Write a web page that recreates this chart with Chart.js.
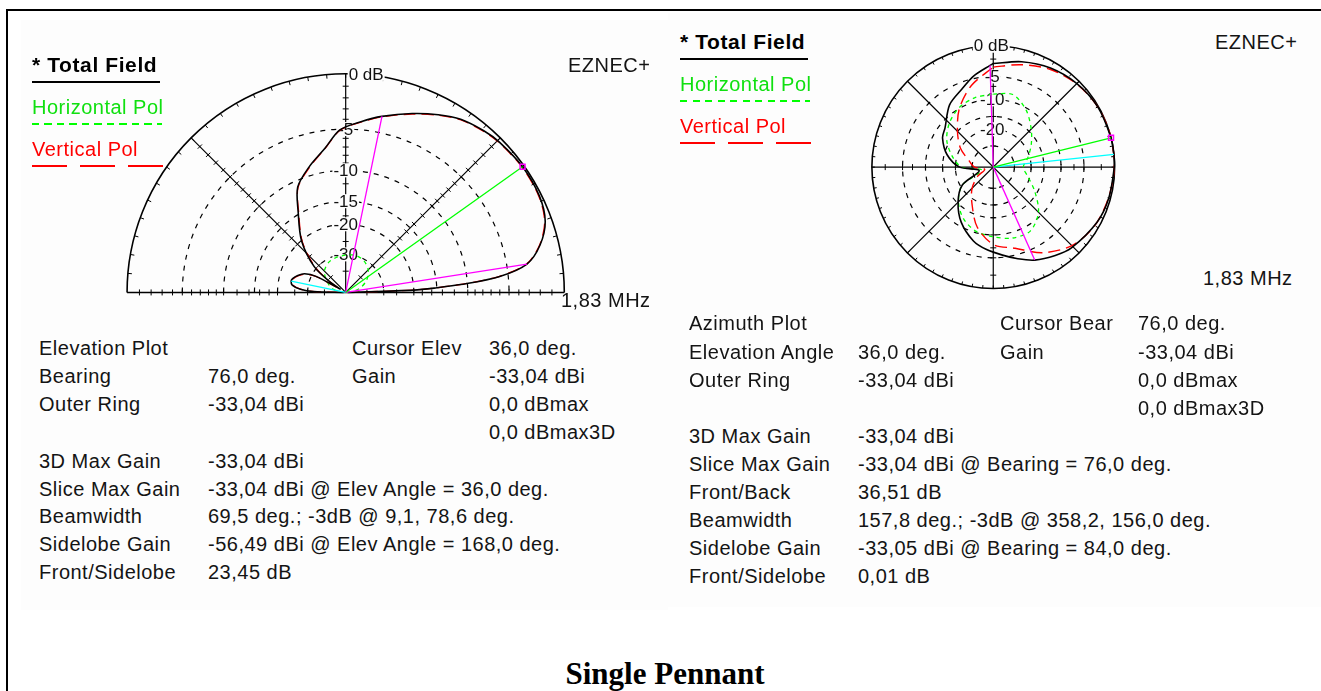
<!DOCTYPE html>
<html>
<head>
<meta charset="utf-8">
<title>Single Pennant</title>
<script src="https://cdn.jsdelivr.net/npm/chart.js@4.4.1/dist/chart.umd.min.js"></script>
<style>
  html, body { margin:0; padding:0; background:#fff; }
  body { width:1321px; height:691px; position:relative; overflow:hidden;
         font-family:"Liberation Sans", Arial, sans-serif; color:#141414; }
  .frame { position:absolute; left:6px; top:9px; width:1400px; height:800px;
           border-top:2px solid #000; border-left:2px solid #000; }
  .panel { position:absolute; background:#fdfdfd; }
  .txt { position:absolute; white-space:nowrap; font-size:20px; line-height:20px; letter-spacing:0.5px; }
  .ltitle { font-weight:bold; font-size:21px; line-height:21px; color:#000; letter-spacing:0.6px; }
  .lline { position:absolute; height:2px; }
  canvas { position:absolute; }
  .title { position:absolute; left:0; width:1330px; top:658px; text-align:center; line-height:31px;
           font-family:"Liberation Serif","Times New Roman",serif; font-weight:bold; font-size:31px; color:#000; }
</style>
</head>
<body>
<div class="frame"></div>
<div class="panel" style="left:21px;top:20px;width:647px;height:590px"></div>
<div class="panel" style="left:668px;top:13px;width:653px;height:594px"></div>
<canvas id="elev" width="560" height="270" style="left:100px;top:50px"></canvas>
<canvas id="azim" width="300" height="290" style="left:850px;top:25px"></canvas>
<div id="texts"></div>
<div class="title">Single Pennant</div>
<script>
// ---------- Elevation slice at bearing 76° (angles = elevation, dB relative to max) ----------
const elevAngles = [0,2,3,4,6,9.1,14,20,27,36,45,50,57,63,70,78.6,85,92,98,106,114,120,130,140,146,148,151,155,160,165,168,172,176,178.5,180];
const elevTotal  = [-80,-20,-15,-11,-6,-3,-1.5,-0.5,-0.1,0,-0.1,-0.25,-0.6,-1.2,-2.0,-3,-3.8,-4.7,-6.6,-8.5,-10.6,-14.3,-19.9,-28.7,-43,-60,-32,-27,-25,-23.7,-23.45,-24,-27,-33,-80];
const elevVpol   = [-80,-20.1,-15.1,-11.1,-6.1,-3.05,-1.55,-0.55,-0.15,-0.05,-0.15,-0.3,-0.65,-1.25,-2.05,-3.05,-3.85,-4.75,-6.65,-8.6,-10.7,-14.5,-20.2,-29.4,-45,-60,-33,-27.5,-25.3,-23.9,-23.6,-24.2,-27.3,-33.5,-80];
const elevHAngles = [0,15,30,45,60,75,90,105,120,135,150,165,180];
const elevHpol    = [-80,-48,-38,-33,-30.5,-29.5,-30,-30.5,-31.5,-34,-40,-48,-80];

// ---------- Azimuth slice at 36° elevation (compass bearings, dB relative to max) ----------
const azTotAngles = [0,15,30,45,60,76,84,90,105,118,136,145,156,165,174,185,195,210,225,240,256,270,285,300,309,325,338,348,358.2,360];
const azTotal     = [-2.7,-1.8,-1.0,-0.45,-0.1,0,-0.01,-0.05,-0.25,-0.55,-1.3,-2.0,-3,-4.2,-5.4,-6.6,-7.9,-11,-15.3,-21,-36.51,-22,-16,-12.5,-11.5,-8,-6.3,-4.5,-3,-2.7];
const azAngles    = [0,15,30,45,60,75,90,105,120,135,150,165,180,195,210,225,240,255,270,285,300,315,330,345,360];
const azVpol      = [-3.3,-2.3,-1.2,-0.5,-0.1,0,-0.05,-0.3,-0.6,-1.5,-3.5,-6.3,-7.7,-11.5,-18,-24,-33,-45,-32,-27,-20,-15,-10,-6.2,-3.3];
const azHpol      = [-8.7,-8.2,-10.5,-14,-17.5,-21,-24,-21,-16,-11,-8.5,-8.6,-9.5,-10.3,-12.2,-15.5,-21,-40,-23,-18,-14,-11.5,-9.8,-9,-8.7];

// ---------- Rings and tick levels (dB) ----------
const ringLevels   = [-5,-10,-15,-20,-30];
const elevRingTags = [-5,-10,-15,-20,-30];
const azRingTags   = [-5,-10,-20];
const elevTicks    = [-1,-2,-3,-4,-5,-6,-7,-8,-9,-10,-12,-14,-16,-18,-20,-25,-30,-40];
const azTicks      = [-2,-5,-7,-10,-15,-20,-30];

// ---------- Readouts ----------
const freqMHz = 1.83;
const maxGainDbi = -33.04;
const elevBearing = 76.0, elevCursor = 36.0, elevBeamEdges = [9.1, 78.6], elevBeamwidth = 69.5;
const elevSideAngle = 168.0, elevSideGainDbi = -56.49;
const azElevation = 36.0, azCursor = 76.0, azBeamEdges = [358.2, 156.0], azBeamwidth = 157.8;
const azSideBearing = 84.0, azSideGainDbi = -33.05, azFrontBack = 36.51;
const halfPower = -3;

// ARRL log scale: field ratio 0.89 per 2 dB
const rho = db => Math.pow(0.89, -db / 2);
const polarPoint = (deg, db, compass) => {
  const a = (compass ? 90 - deg : deg) * Math.PI / 180;
  const r = rho(db);
  return { x: r * Math.cos(a), y: r * Math.sin(a) };
};
const curve = (angles, vals, compass) => angles.map((a, i) => polarPoint(a, vals[i], compass));
const spoke = (deg, db, compass) => [{ x: 0, y: 0 }, polarPoint(deg, db, compass)];

const f1 = v => v.toFixed(1).replace('.', ',');
const f2 = v => v.toFixed(2).replace('.', ',');

const PANEL = '#fdfdfd';
const LABEL_FONT = '17px "Liberation Sans", Arial, sans-serif';

function tickAlong(ctx, cx, cy, R, angRad, len, levels) {
  const dx = Math.cos(angRad), dy = -Math.sin(angRad);
  const nx = -dy, ny = dx;
  levels.forEach(db => {
    const r = R * rho(db);
    const px = cx + dx * r, py = cy + dy * r;
    ctx.beginPath();
    ctx.moveTo(px - nx * len, py - ny * len);
    ctx.lineTo(px + nx * len, py + ny * len);
    ctx.stroke();
  });
}

function label(ctx, text, x, y, align) {
  ctx.font = LABEL_FONT;
  const w = ctx.measureText(text).width;
  const left = align === 'left' ? x : x - w / 2;
  ctx.fillStyle = PANEL;
  ctx.fillRect(left - 1, y - 7, w + 2, 14);
  ctx.fillStyle = '#111';
  ctx.textAlign = 'left';
  ctx.textBaseline = 'middle';
  ctx.fillText(text, left, y + 1);
}

const elevGrid = {
  id: 'elevGrid',
  beforeDatasetsDraw(chart) {
    const { ctx, scales: { x, y } } = chart;
    const cx = x.getPixelForValue(0), cy = y.getPixelForValue(0);
    const R = x.getPixelForValue(1) - cx;
    ctx.save();
    ctx.strokeStyle = '#000';
    ctx.lineWidth = 1.2;
    ctx.setLineDash([5, 6]);
    ringLevels.forEach(db => {
      ctx.beginPath(); ctx.arc(cx, cy, R * rho(db), Math.PI, 2 * Math.PI); ctx.stroke();
    });
    ctx.setLineDash([]);
    ctx.lineWidth = 1.6;
    ctx.beginPath(); ctx.arc(cx, cy, R, Math.PI, 2 * Math.PI); ctx.stroke();
    ctx.beginPath(); ctx.moveTo(cx - R, cy); ctx.lineTo(cx + R, cy); ctx.stroke();
    ctx.lineWidth = 1.2;
    [45, 90, 135].forEach(a => {
      const t = a * Math.PI / 180;
      ctx.beginPath(); ctx.moveTo(cx, cy); ctx.lineTo(cx + R * Math.cos(t), cy - R * Math.sin(t)); ctx.stroke();
    });
    ctx.lineWidth = 1;
    [0, 45, 90, 135, 180].forEach(a => tickAlong(ctx, cx, cy, R, a * Math.PI / 180, 3, elevTicks));
    for (let a = 5; a < 180; a += 5) {
      const t = a * Math.PI / 180;
      ctx.beginPath();
      ctx.moveTo(cx + R * Math.cos(t), cy - R * Math.sin(t));
      ctx.lineTo(cx + (R - 4) * Math.cos(t), cy - (R - 4) * Math.sin(t));
      ctx.stroke();
    }
    label(ctx, '0 dB', cx + 3, cy - R, 'left');
    elevRingTags.forEach(db => label(ctx, String(db), cx, cy - R * rho(db)));
    ctx.restore();
  }
};

const azGrid = {
  id: 'azGrid',
  beforeDatasetsDraw(chart) {
    const { ctx, scales: { x, y } } = chart;
    const cx = x.getPixelForValue(0), cy = y.getPixelForValue(0);
    const R = x.getPixelForValue(1) - cx;
    ctx.save();
    ctx.strokeStyle = '#000';
    ctx.lineWidth = 1.2;
    ctx.setLineDash([5, 6]);
    ringLevels.forEach(db => {
      ctx.beginPath(); ctx.arc(cx, cy, R * rho(db), 0, 2 * Math.PI); ctx.stroke();
    });
    ctx.setLineDash([]);
    ctx.lineWidth = 1.6;
    ctx.beginPath(); ctx.arc(cx, cy, R, 0, 2 * Math.PI); ctx.stroke();
    ctx.lineWidth = 1.2;
    [0, 45, 90, 135].forEach(a => {
      const t = a * Math.PI / 180;
      ctx.beginPath();
      ctx.moveTo(cx - R * Math.cos(t), cy + R * Math.sin(t));
      ctx.lineTo(cx + R * Math.cos(t), cy - R * Math.sin(t));
      ctx.stroke();
    });
    ctx.lineWidth = 1;
    [0, 90, 180, 270].forEach(a => tickAlong(ctx, cx, cy, R, a * Math.PI / 180, 3, azTicks));
    for (let a = 0; a < 360; a += 5) {
      const t = a * Math.PI / 180;
      ctx.beginPath();
      ctx.moveTo(cx + R * Math.cos(t), cy - R * Math.sin(t));
      ctx.lineTo(cx + (R - 3) * Math.cos(t), cy - (R - 3) * Math.sin(t));
      ctx.stroke();
    }
    label(ctx, '0 dB', cx - 2, cy - R);
    azRingTags.forEach(db => label(ctx, String(db), cx - 1, cy - R * rho(db)));
    ctx.restore();
  }
};

function lineSet(data, color, width, dash, order, tension) {
  return { data, showLine: true, borderColor: color, backgroundColor: color, borderWidth: width,
           borderDash: dash || [], pointRadius: 0, tension: tension || 0, order, fill: false };
}
function markerSet(pt, order) {
  return { data: [pt], showLine: false, pointStyle: 'rect', pointRadius: 3.5, pointBorderWidth: 1.5,
           pointBorderColor: '#ff00ff', pointBackgroundColor: 'rgba(0,0,0,0)', order };
}

function makeChart(id, datasets, grid, center, R) {
  const cv = document.getElementById(id);
  const W = cv.width, H = cv.height;
  return new Chart(cv, {
    type: 'scatter',
    data: { datasets },
    options: {
      responsive: false, animation: false, events: [],
      layout: { padding: 0 },
      plugins: { legend: { display: false }, tooltip: { enabled: false } },
      scales: {
        x: { type: 'linear', display: false, min: -center[0] / R, max: (W - center[0]) / R },
        y: { type: 'linear', display: false, min: -(H - center[1]) / R, max: center[1] / R }
      }
    },
    plugins: [grid]
  });
}

// Elevation chart: origin at page (345,297), outer ring radius 223 px
makeChart('elev', [
  markerSet(polarPoint(elevCursor, 0, false), 0),
  lineSet(spoke(elevCursor, 0, false), '#00ff00', 1.3, null, 1),
  lineSet(spoke(elevBeamEdges[0], halfPower, false), '#ff00ff', 1.3, null, 2),
  lineSet(spoke(elevBeamEdges[1], halfPower, false), '#ff00ff', 1.3, null, 2),
  lineSet(spoke(elevSideAngle, elevSideGainDbi - maxGainDbi, false), '#00ffff', 1.3, null, 3),
  lineSet(curve(elevAngles, elevTotal, false), '#000', 1.6, null, 4, 0.3),
  lineSet(curve(elevAngles, elevVpol, false), '#ff0000', 1.3, [12, 6], 5, 0.3),
  lineSet(curve(elevHAngles, elevHpol, false), '#00ff00', 1.3, [4, 4], 6, 0.3)
], elevGrid, [245, 247], 223);

// Azimuth chart: origin at page (993,167), outer ring radius 126 px
makeChart('azim', [
  markerSet(polarPoint(azCursor, 0, true), 0),
  lineSet(spoke(azCursor, 0, true), '#00ff00', 1.3, null, 1),
  lineSet(spoke(azBeamEdges[0], halfPower, true), '#ff00ff', 1.3, null, 2),
  lineSet(spoke(azBeamEdges[1], halfPower, true), '#ff00ff', 1.3, null, 2),
  lineSet(spoke(azSideBearing, azSideGainDbi - maxGainDbi, true), '#00ffff', 1.3, null, 3),
  lineSet(curve(azTotAngles, azTotal, true), '#000', 1.6, null, 4, 0.3),
  lineSet(curve(azAngles, azVpol, true), '#ff0000', 1.4, [12, 6], 5, 0.3),
  lineSet(curve(azAngles, azHpol, true), '#00ff00', 1.3, [4, 4], 6, 0.3)
], azGrid, [143, 142], 126);

// ---------- Legends, readouts and captions ----------
const host = document.getElementById('texts');
function put(text, x, cy, cls, color) {
  const d = document.createElement('div');
  d.className = 'txt' + (cls ? ' ' + cls : '');
  d.textContent = text;
  const off = cls === 'ltitle' ? 10.3 : 9.8;
  d.style.left = x + 'px';
  d.style.top = (cy - off) + 'px';
  if (color) d.style.color = color;
  host.appendChild(d);
}
function rule(x, y, w, bg) {
  const d = document.createElement('div');
  d.className = 'lline';
  d.style.left = x + 'px'; d.style.top = y + 'px'; d.style.width = w + 'px';
  d.style.background = bg;
  host.appendChild(d);
}
const greenDash = 'repeating-linear-gradient(90deg,#00ff00 0 7px,transparent 7px 12.5px)';
const redDash = 'repeating-linear-gradient(90deg,#ff0000 0 35px,transparent 35px 48px)';

function legend(x, y0) {
  put('* Total Field', x, y0, 'ltitle');
  rule(x, y0 + 16, 128, '#000');
  put('Horizontal Pol', x, y0 + 42.5, '', '#10e010');
  rule(x, y0 + 58, 130, greenDash);
  put('Vertical Pol', x, y0 + 84, '', '#ff0000');
  rule(x, y0 + 100, 131, redDash);
}
legend(32, 64.5);
legend(680, 41.5);

put('EZNEC+', 568, 64.5);
put('EZNEC+', 1215, 41.5);
put(f2(freqMHz) + ' MHz', 561, 300);
put(f2(freqMHz) + ' MHz', 1203, 278);

const dBi = v => f2(v) + ' dBi';
const deg = v => f1(v) + ' deg.';

const elevRows = [
  [348, 'Elevation Plot', '', 'Cursor Elev', deg(elevCursor)],
  [376, 'Bearing', deg(elevBearing), 'Gain', dBi(maxGainDbi)],
  [404, 'Outer Ring', dBi(maxGainDbi), '', '0,0 dBmax'],
  [432, '', '', '', '0,0 dBmax3D'],
  [461, '3D Max Gain', dBi(maxGainDbi), '', ''],
  [489, 'Slice Max Gain', dBi(maxGainDbi) + ' @ Elev Angle = ' + deg(elevCursor), '', ''],
  [516, 'Beamwidth', deg(elevBeamwidth) + '; -3dB @ ' + f1(elevBeamEdges[0]) + ', ' + deg(elevBeamEdges[1]), '', ''],
  [544, 'Sidelobe Gain', dBi(elevSideGainDbi) + ' @ Elev Angle = ' + deg(elevSideAngle), '', ''],
  [572, 'Front/Sidelobe', f2(maxGainDbi - elevSideGainDbi) + ' dB', '', '']
];
const azRows = [
  [323, 'Azimuth Plot', '', 'Cursor Bear', deg(azCursor)],
  [352, 'Elevation Angle', deg(azElevation), 'Gain', dBi(maxGainDbi)],
  [380, 'Outer Ring', dBi(maxGainDbi), '', '0,0 dBmax'],
  [408, '', '', '', '0,0 dBmax3D'],
  [436, '3D Max Gain', dBi(maxGainDbi), '', ''],
  [464, 'Slice Max Gain', dBi(maxGainDbi) + ' @ Bearing = ' + deg(azCursor), '', ''],
  [492, 'Front/Back', f2(azFrontBack) + ' dB', '', ''],
  [520, 'Beamwidth', deg(azBeamwidth) + '; -3dB @ ' + f1(azBeamEdges[0]) + ', ' + deg(azBeamEdges[1]), '', ''],
  [548, 'Sidelobe Gain', dBi(azSideGainDbi) + ' @ Bearing = ' + deg(azSideBearing), '', ''],
  [576, 'Front/Sidelobe', f2(maxGainDbi - azSideGainDbi) + ' dB', '', '']
];
function table(rows, cols) {
  rows.forEach(r => {
    for (let c = 0; c < 4; c++) if (r[c + 1]) put(r[c + 1], cols[c], r[0]);
  });
}
table(elevRows, [39, 208, 352, 489]);
table(azRows, [689, 858, 1000, 1138]);
</script>
</body>
</html>
